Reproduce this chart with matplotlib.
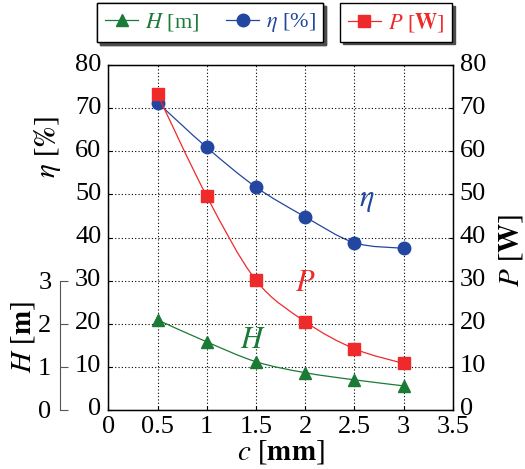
import numpy as np
import matplotlib
matplotlib.use("Agg")
import matplotlib.pyplot as plt
from matplotlib.path import Path
from matplotlib.patches import PathPatch
from matplotlib.lines import Line2D
from matplotlib.transforms import ScaledTranslation

plt.rcParams['font.family'] = ['Liberation Serif', 'DejaVu Serif']
plt.rcParams['mathtext.fontset'] = 'stix'
plt.rcParams['font.size'] = 19

# data
c_mm = [0.5, 1.0, 1.5, 2.0, 2.5, 3.0]
eta = [71.3, 60.9, 51.7, 44.8, 38.8, 37.5]
power = [73.2, 49.6, 30.1, 20.5, 14.2, 10.8]
head = [2.09, 1.58, 1.12, 0.865, 0.70, 0.56]

green = '#1b7a36'
blue = '#2346a0'
red = '#ee2a2a'


def smooth(ax, x, y, color):
    # catmull-rom curve through the points, drawn as bezier segments
    pts = np.column_stack([x, y])
    n = len(pts)
    verts = [pts[0]]
    codes = [Path.MOVETO]
    for i in range(n - 1):
        p0 = pts[max(i - 1, 0)]
        p1 = pts[i]
        p2 = pts[i + 1]
        p3 = pts[min(i + 2, n - 1)]
        verts += [p1 + (p2 - p0) / 6, p2 - (p3 - p1) / 6, p2]
        codes += [Path.CURVE4] * 3
    ax.add_patch(PathPatch(Path(verts, codes), fc='none', ec=color, lw=0.9))


def lift(axis, fig):
    # nudge tick labels up a few pixels, like the original
    off = ScaledTranslation(0, 3 / 100, fig.dpi_scale_trans)
    for lab in axis.get_ticklabels():
        lab.set_transform(lab.get_transform() + off)


fig = plt.figure(figsize=(5.25, 4.69), dpi=100)
ax = fig.add_axes([0.2063, 0.1258, 0.6560, 0.7356])
ax.set_xlim(0, 3.5)
ax.set_ylim(0, 80)
ax.set_xticks(np.arange(0, 3.51, 0.5))
ax.set_xticklabels(['0', '0.5', '1', '1.5', '2', '2.5', '3', '3.5'])
ax.set_yticks(range(0, 81, 10))
ax.grid(True, color='black', linestyle=(0, (1, 2)), linewidth=0.8)
ax.tick_params(direction='in', length=3, pad=5, width=0.8)
ax.tick_params(axis='x', pad=4)
for s in ax.spines.values():
    s.set_linewidth(1.0)
ax.set_xlabel(r'$c$ [$\mathbf{mm}$]', fontsize=21, labelpad=0)
ax.set_ylabel(r'$\eta$ [$\mathbf{\%}$]', fontsize=21)
ax.yaxis.set_label_coords(-0.131, 0.762)

smooth(ax, c_mm, eta, blue)
ax.plot(c_mm, eta, 'o', color=blue, ms=9, zorder=3)

ax2 = ax.twinx()
ax2.set_ylim(0, 80)
ax2.set_yticks(range(0, 81, 10))
ax2.tick_params(direction='in', length=3, pad=5, width=0.8)
ax2.set_ylabel(r'$P$ [$\mathbf{W}$]', rotation=90, fontsize=21)
ax2.yaxis.set_label_coords(1.129, 0.464)
smooth(ax2, c_mm, power, red)
ax2.plot(c_mm, power, 's', color=red, ms=9, zorder=3)

ax3 = ax.twinx()
ax3.set_ylim(0, 8)
ax3.yaxis.set_ticks_position('left')
ax3.yaxis.set_label_position('left')
for k in ['right', 'top', 'bottom']:
    ax3.spines[k].set_visible(False)
ax3.spines['left'].set_visible(True)
ax3.spines['left'].set_position(('outward', 35))
ax3.spines['left'].set_bounds(0, 3)
ax3.spines['left'].set_color('#555555')
ax3.set_yticks([0, 1, 2, 3])
ax3.tick_params(axis='y', direction='in', length=6, pad=6, color='#555555')
ax3.set_ylabel(r'$H$ [$\mathbf{m}$]', fontsize=21)
ax3.yaxis.set_label_coords(-0.207, 0.212)
smooth(ax3, c_mm, head, green)
ax3.plot(c_mm, head, '^', color=green, ms=9, zorder=3)

lift(ax.yaxis, fig)
lift(ax2.yaxis, fig)

ax.text(2.63, 48.7, r'$\eta$', color=blue, fontsize=22, ha='center', va='center')
ax2.text(2.0, 29.4, r'$P$', color=red, fontsize=22, ha='center', va='center')
ax3.text(1.47, 1.62, r'$H$', color=green, fontsize=22, ha='center', va='center')

h_line = Line2D([], [], color=green, marker='^', ms=9, lw=0.9)
e_line = Line2D([], [], color=blue, marker='o', ms=9, lw=0.9)
p_line = Line2D([], [], color=red, marker='s', ms=9, lw=0.9)

shadow = {'color': '0.3', 'alpha': 1}
leg1 = fig.legend([h_line, e_line], [r'$H$ [m]', r'$\eta$ [%]'], ncol=2,
                  loc='upper left', bbox_to_anchor=(0.185, 0.9936),
                  borderaxespad=0, fancybox=False, shadow=shadow,
                  edgecolor='black', labelcolor='linecolor', fontsize=16,
                  handlelength=1.5, handletextpad=0.3, columnspacing=1.2,
                  borderpad=0.35, framealpha=1)
leg2 = fig.legend([p_line], [r'$P$ [$\mathbf{W}$]$\;$'],
                  loc='upper left', bbox_to_anchor=(0.6476, 0.9936),
                  borderaxespad=0, fancybox=False, shadow=shadow,
                  edgecolor='black', labelcolor='linecolor', fontsize=16,
                  handlelength=1.5, handletextpad=0.3, borderpad=0.35,
                  framealpha=1)
fig.add_artist(leg1)

fig.savefig('out.png', dpi=100)
